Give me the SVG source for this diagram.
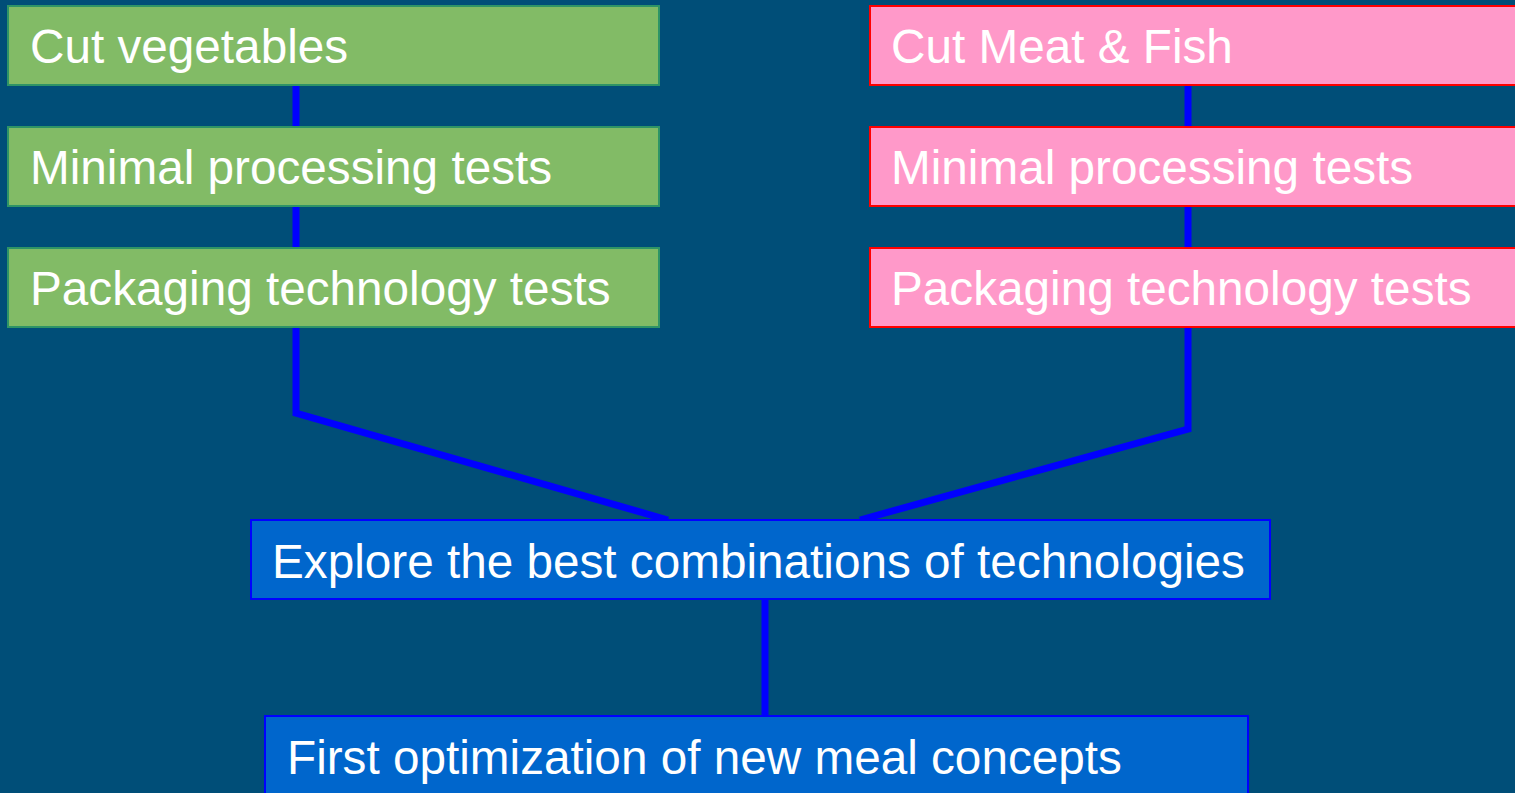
<svg xmlns="http://www.w3.org/2000/svg" width="1515" height="793" viewBox="0 0 1515 793">
  <style>
    .lbl { font-family: "Liberation Sans", Arial, sans-serif; font-size: 47.7px; fill: #ffffff; }
    .veg { fill: #82BB66; stroke: #2E9466; stroke-width: 2; }
    .meat { fill: #FF99C9; stroke: #FF0000; stroke-width: 2; }
    .step { fill: #0066CC; stroke: #0000FF; stroke-width: 2; }
    .link { fill: none; stroke: #0000FF; stroke-width: 7; stroke-linejoin: miter; }
  </style>
  <rect width="1515" height="793" fill="#004E78"/>

  <!-- connectors -->
  <g id="connectors">
    <polyline class="link" points="296,85 296,413 668,520"/>
    <polyline class="link" points="1188,85 1188,429 860,520"/>
    <line class="link" x1="765" y1="599" x2="765" y2="716"/>
  </g>

  <!-- vegetable branch -->
  <g id="cut-vegetables">
    <rect class="veg" x="8" y="6" width="651" height="79"/>
    <text class="lbl" x="30" y="63">Cut vegetables</text>
  </g>
  <g id="veg-minimal-processing">
    <rect class="veg" x="8" y="127" width="651" height="79"/>
    <text class="lbl" x="30" y="184">Minimal processing tests</text>
  </g>
  <g id="veg-packaging">
    <rect class="veg" x="8" y="248" width="651" height="79"/>
    <text class="lbl" x="30" y="305">Packaging technology tests</text>
  </g>

  <!-- meat & fish branch -->
  <g id="cut-meat-fish">
    <rect class="meat" x="870" y="6" width="660" height="79"/>
    <text class="lbl" x="891" y="63">Cut Meat &amp; Fish</text>
  </g>
  <g id="meat-minimal-processing">
    <rect class="meat" x="870" y="127" width="660" height="79"/>
    <text class="lbl" x="891" y="184">Minimal processing tests</text>
  </g>
  <g id="meat-packaging">
    <rect class="meat" x="870" y="248" width="660" height="79"/>
    <text class="lbl" x="891" y="305">Packaging technology tests</text>
  </g>

  <!-- merged steps -->
  <g id="explore-combinations">
    <rect class="step" x="251" y="520" width="1019" height="79"/>
    <text class="lbl" x="272" y="578">Explore the best combinations of technologies</text>
  </g>
  <g id="first-optimization">
    <rect class="step" x="265" y="716" width="983" height="90"/>
    <text class="lbl" x="287" y="774">First optimization of new meal concepts</text>
  </g>
</svg>
